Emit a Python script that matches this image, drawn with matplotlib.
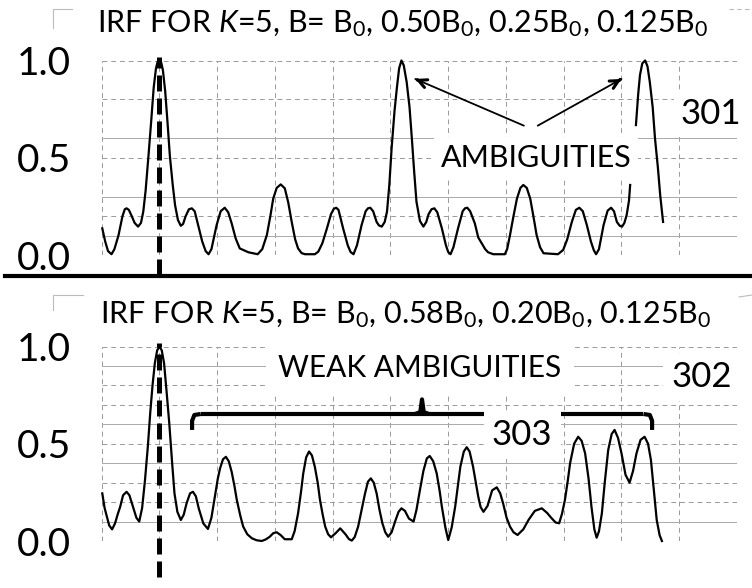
import matplotlib
matplotlib.use("Agg")
import numpy as np
import matplotlib.pyplot as plt
from matplotlib.lines import Line2D

plt.rcParams["font.family"] = ["Lato", "DejaVu Sans"]
plt.rcParams["mathtext.fontset"] = "custom"
plt.rcParams["mathtext.rm"] = "Lato"
plt.rcParams["mathtext.it"] = "Lato:italic"

nan = np.nan

# IRF 301: B = B0, 0.50B0, 0.25B0, 0.125B0 (x in grid cells, y normalised)
irf_301_x = [0.01, 0.06, 0.11, 0.17, 0.22, 0.29, 0.36, 0.40, 0.43, 0.47, 0.52, 0.57,
             0.63, 0.68, 0.72, 0.76, 0.81, 0.86, 0.90, 0.94, 0.97, 1.00, 1.03, 1.06,
             1.10, 1.14, 1.18, 1.23, 1.27, 1.32, 1.37, 1.41, 1.45, 1.51, 1.56, 1.61,
             1.67, 1.74, 1.80, 1.85, 1.90, 1.99, 2.06, 2.13, 2.19, 2.25, 2.32, 2.39,
             2.54, 2.70, 2.78, 2.86, 2.92, 2.97, 3.03, 3.10, 3.17, 3.23, 3.29, 3.35,
             3.40, 3.46, 3.52, 3.69, 3.75, 3.82, 3.90, 3.97, 4.02, 4.06, 4.10, 4.18,
             4.26, 4.31, 4.36, 4.42, 4.50, 4.57, 4.61, 4.65, 4.70, 4.76, 4.80, 4.85,
             4.90, 4.94, 4.98, 5.02, 5.07, 5.11, 5.15, 5.19, 5.23, 5.28, 5.33, 5.37,
             5.41, 5.45, 5.51, 5.57, 5.62, 5.66, 5.71, 5.76, 5.81, 5.89, 5.96, 6.00,
             6.04, 6.09, 6.17, 6.25, 6.29, 6.33, 6.38, 6.46, 6.52, 6.58, 6.64, 6.69,
             6.78, 6.98, 7.02, 7.07, 7.13, 7.19, 7.25, 7.30, 7.36, 7.42, 7.48, 7.53,
             7.59, 7.65, 7.90, 7.99, 8.06, 8.14, 8.21, 8.27, 8.33, 8.40, 8.47, 8.52,
             8.56, 8.61, 8.69, 8.76, 8.82, 8.87, 8.92, 8.97, 9.01, 9.05, 9.09, 9.13,
             9.15, nan, 9.25, 9.29, 9.32, 9.36, 9.41, 9.45, 9.49, 9.54, 9.58, 9.63,
             9.67, 9.72]
irf_301_y = [0.137, 0.07, 0.02, 0.004, 0.03, 0.10, 0.20, 0.235, 0.24, 0.232, 0.20, 0.165,
             0.146, 0.165, 0.223, 0.33, 0.51, 0.70, 0.86, 0.96, 0.995, 1.00, 0.99, 0.95,
             0.84, 0.68, 0.51, 0.36, 0.257, 0.18, 0.15, 0.16, 0.197, 0.235, 0.24, 0.225,
             0.154, 0.07, 0.02, 0.004, 0.03, 0.154, 0.225, 0.243, 0.22, 0.163, 0.085, 0.034,
             0.014, 0.004, 0.03, 0.103, 0.20, 0.29, 0.345, 0.363, 0.343, 0.27, 0.17, 0.08,
             0.034, 0.01, 0.004, 0.004, 0.017, 0.06, 0.137, 0.21, 0.238, 0.243, 0.232, 0.137,
             0.05, 0.015, 0.004, 0.05, 0.154, 0.225, 0.24, 0.243, 0.225, 0.17, 0.152, 0.146,
             0.17, 0.223, 0.36, 0.55, 0.74, 0.857, 0.96, 1.00, 0.975, 0.89, 0.76, 0.60,
             0.43, 0.274, 0.175, 0.146, 0.17, 0.21, 0.235, 0.24, 0.22, 0.137, 0.05, 0.015,
             0.004, 0.04, 0.137, 0.225, 0.24, 0.243, 0.225, 0.163, 0.09, 0.06, 0.03, 0.014,
             0.004, 0.004, 0.03, 0.103, 0.20, 0.29, 0.345, 0.36, 0.345, 0.29, 0.19, 0.103,
             0.04, 0.009, 0.004, 0.026, 0.08, 0.17, 0.232, 0.243, 0.225, 0.154, 0.07, 0.025,
             0.004, 0.03, 0.154, 0.228, 0.243, 0.225, 0.17, 0.15, 0.146, 0.165, 0.206, 0.28,
             0.36, nan, 0.668, 0.83, 0.925, 0.985, 1.00, 0.97, 0.89, 0.76, 0.60, 0.45,
             0.308, 0.17]

# IRF 302: B = B0, 0.58B0, 0.20B0, 0.125B0
irf_302_x = [0.01, 0.05, 0.09, 0.13, 0.18, 0.23, 0.28, 0.32, 0.37, 0.43, 0.48, 0.55,
             0.60, 0.65, 0.70, 0.75, 0.80, 0.84, 0.88, 0.92, 0.96, 1.00, 1.04, 1.08,
             1.12, 1.17, 1.22, 1.26, 1.31, 1.37, 1.42, 1.47, 1.53, 1.58, 1.63, 1.68,
             1.76, 1.84, 1.90, 1.96, 2.01, 2.05, 2.10, 2.15, 2.20, 2.25, 2.30, 2.34,
             2.40, 2.45, 2.52, 2.60, 2.68, 2.77, 2.84, 2.91, 2.97, 3.03, 3.10, 3.17,
             3.29, 3.34, 3.40, 3.45, 3.49, 3.54, 3.59, 3.64, 3.69, 3.74, 3.78, 3.83,
             3.87, 3.92, 3.97, 4.05, 4.13, 4.22, 4.28, 4.33, 4.38, 4.44, 4.50, 4.56,
             4.61, 4.66, 4.71, 4.76, 4.81, 4.86, 4.91, 4.96, 5.02, 5.08, 5.14, 5.19,
             5.25, 5.32, 5.40, 5.45, 5.51, 5.57, 5.63, 5.68, 5.74, 5.80, 5.85, 5.89,
             5.95, 6.00, 6.06, 6.12, 6.17, 6.21, 6.27, 6.32, 6.37, 6.43, 6.49, 6.52,
             6.56, 6.61, 6.68, 6.76, 6.84, 6.90, 6.95, 7.01, 7.07, 7.13, 7.20, 7.30,
             7.39, 7.50, 7.62, 7.71, 7.79, 7.86, 7.92, 7.97, 8.02, 8.07, 8.11, 8.18,
             8.25, 8.31, 8.37, 8.43, 8.48, 8.53, 8.57, 8.61, 8.66, 8.71, 8.77, 8.83,
             8.88, 8.94, 9.00, 9.07, 9.14, 9.20, 9.26, 9.33, 9.40, 9.46, 9.51, 9.56,
             9.61, 9.66, 9.70]
irf_302_y = [0.245, 0.17, 0.125, 0.08, 0.06, 0.09, 0.14, 0.176, 0.235, 0.253, 0.235, 0.168,
             0.12, 0.10, 0.17, 0.314, 0.49, 0.657, 0.80, 0.914, 0.98, 1.00, 0.98, 0.914,
             0.78, 0.605, 0.40, 0.245, 0.15, 0.108, 0.135, 0.194, 0.245, 0.253, 0.23, 0.168,
             0.09, 0.062, 0.12, 0.228, 0.32, 0.374, 0.42, 0.433, 0.41, 0.356, 0.28, 0.21,
             0.13, 0.074, 0.035, 0.014, 0.004, 0.00, 0.008, 0.022, 0.04, 0.045, 0.03, 0.009,
             0.009, 0.05, 0.142, 0.25, 0.348, 0.43, 0.46, 0.44, 0.382, 0.30, 0.21, 0.13,
             0.074, 0.035, 0.019, 0.04, 0.065, 0.035, 0.01, 0.002, 0.02, 0.074, 0.16, 0.245,
             0.305, 0.322, 0.30, 0.245, 0.16, 0.091, 0.045, 0.022, 0.045, 0.10, 0.15, 0.168,
             0.155, 0.115, 0.10, 0.16, 0.262, 0.36, 0.425, 0.437, 0.41, 0.348, 0.26, 0.176,
             0.07, 0.005, 0.07, 0.176, 0.29, 0.382, 0.46, 0.482, 0.46, 0.382, 0.28, 0.228,
             0.175, 0.15, 0.18, 0.26, 0.276, 0.245, 0.194, 0.12, 0.074, 0.045, 0.031, 0.06,
             0.108, 0.155, 0.168, 0.145, 0.117, 0.095, 0.091, 0.14, 0.21, 0.31, 0.40, 0.50,
             0.536, 0.515, 0.451, 0.32, 0.176, 0.06, 0.017, 0.05, 0.142, 0.30, 0.468, 0.55,
             0.571, 0.53, 0.451, 0.34, 0.30, 0.36, 0.451, 0.52, 0.536, 0.50, 0.416, 0.26,
             0.108, 0.03, 0.00]

ytick_vals = [0.0, 0.5, 1.0]
ytick_labels = ["0.0", "0.5", "1.0"]
grid_x = list(range(12))
grid_301_solid = [0.1, 0.3, 0.6]
grid_301_dashed = [0.0, 0.2, 0.5, 0.8, 1.0]
grid_302_solid = [0.1, 0.4, 0.6, 0.9]
grid_302_dashed = [0.0, 0.2, 0.3, 0.5, 0.7, 0.8, 1.0]
peak_x = 1.0

title_301 = r"IRF FOR $\mathit{K}$=$\mathit{5}$, B= B$_0$, 0.50B$_0$, 0.25B$_0$, 0.125B$_0$"
title_302 = r"IRF FOR $\mathit{K}$=$\mathit{5}$, B= B$_0$, 0.58B$_0$, 0.20B$_0$, 0.125B$_0$"

W, H = 752, 588
fig = plt.figure(figsize=(W / 100, H / 100), dpi=100)


def px_axes(x0, x1, y_top, y_bot):
    return fig.add_axes([x0 / W, 1 - y_bot / H, (x1 - x0) / W, (y_bot - y_top) / H])


def setup(ax, solid, dashed):
    ax.set_xlim(0, 11)
    ax.set_ylim(0, 1)
    for s in ax.spines.values():
        s.set_visible(False)
    ax.set_xticks([])
    ax.set_yticks(ytick_vals)
    ax.set_yticklabels(ytick_labels, fontsize=28)
    ax.tick_params(axis="y", length=0, pad=22)
    for gx in grid_x:
        ax.plot([gx, gx], [0, 1], color="#999999", lw=0.7, ls=(0, (5, 4)), zorder=1)
    for gy in solid:
        ax.plot([0, 11], [gy, gy], color="#aaaaaa", lw=0.7, zorder=1)
    for gy in dashed:
        ax.plot([0, 11], [gy, gy], color="#999999", lw=0.7, ls=(0, (5, 4)), zorder=1)


white = dict(facecolor="white", edgecolor="none")
curve_kw = dict(color="black", lw=1.6, zorder=4, clip_on=False, solid_joinstyle="round")
dash_kw = dict(color="black", lw=3.6, dashes=(3.2, 1.4), zorder=5, clip_on=False)

# top panel
ax1 = px_axes(101.7, 737, 60.5, 255)
setup(ax1, grid_301_solid, grid_301_dashed)
ax1.plot(irf_301_x, irf_301_y, **curve_kw)
ax1.plot([peak_x, peak_x], [-0.105, 1.02], **dash_kw)
ax1.text(7.52, 0.50, "AMBIGUITIES", fontsize=22, ha="center", va="center", zorder=3,
         bbox=dict(pad=5, **white))
ax1.text(10.55, 0.725, "301", fontsize=25, ha="center", va="center", zorder=3,
         bbox=dict(pad=5, **white))
for head, tail in [((5.43, 0.905), (7.31, 0.665)), ((9.0, 0.905), (7.55, 0.665))]:
    # thin shaft, then a short stub that carries the heavier arrow head
    ax1.annotate("", xy=head, xytext=tail, zorder=5,
                 arrowprops=dict(arrowstyle="-", lw=1.3, color="black",
                                 shrinkA=0, shrinkB=0))
    stub = (head[0] + (tail[0] - head[0]) * 0.02, head[1] + (tail[1] - head[1]) * 0.02)
    ax1.annotate("", xy=head, xytext=stub, zorder=5,
                 arrowprops=dict(arrowstyle="->,head_length=0.6,head_width=0.3",
                                 lw=2.2, color="black", shrinkA=0, shrinkB=0))

# bottom panel
ax2 = px_axes(101.7, 737, 346.5, 541)
setup(ax2, grid_302_solid, grid_302_dashed)
ax2.plot(irf_302_x, irf_302_y, **curve_kw)
ax2.plot([peak_x, peak_x], [-0.185, 1.02], **dash_kw)
ax2.text(5.51, 0.889, "WEAK AMBIGUITIES", fontsize=21.5, ha="center", va="center", zorder=3,
         bbox=dict(pad=9, **white))
ax2.text(10.39, 0.843, "302", fontsize=25, ha="center", va="center", zorder=3,
         bbox=dict(pad=6, **white))
ax2.text(7.28, 0.545, "303", fontsize=25, ha="center", va="center", zorder=3,
         bbox=dict(pad=6, **white))

# brace over the weak ambiguities
bl, br, btip, by, bdown = 1.565, 9.53, 5.546, 0.653, 0.571
brace_kw = dict(color="black", lw=3.0, zorder=2, clip_on=False, solid_capstyle="butt")
ax2.plot([bl, bl, bl + 0.04, bl + 0.15], [bdown, by - 0.035, by - 0.005, by], **brace_kw)
ax2.plot([bl + 0.15, br - 0.15], [by, by], **brace_kw)
ax2.plot([br - 0.15, br - 0.04, br, br], [by, by - 0.005, by - 0.035, bdown], **brace_kw)
ax2.plot([btip - 0.12, btip - 0.03, btip, btip + 0.03, btip + 0.12],
         [by, by + 0.01, by + 0.075, by + 0.01, by], **brace_kw)

# titles
fig.text(97 / W, 1 - 24 / H, title_301, fontsize=22, ha="left", va="center")
fig.text(100 / W, 1 - 315 / H, title_302, fontsize=22, ha="left", va="center")

# separator between panels
fig.add_artist(Line2D([5 / W, 1], [1 - 276 / H] * 2, color="black", lw=3))

# scan remnants of frame corners
gray = dict(color="#bbbbbb", lw=0.8)
fig.add_artist(Line2D([53 / W, 53 / W, 72 / W], [1 - 28 / H, 1 - 9 / H, 1 - 9 / H], **gray))
fig.add_artist(Line2D([53 / W, 53 / W, 83 / W], [1 - 310 / H, 1 - 295 / H, 1 - 295 / H], **gray))
fig.add_artist(Line2D([729 / W, 752 / W], [1 - 9 / H] * 2, ls=(0, (4, 3)), **gray))
fig.add_artist(Line2D([739 / W, 752 / W], [1 - 297 / H, 1 - 295 / H], **gray))

fig.savefig("out.png", dpi=100)
